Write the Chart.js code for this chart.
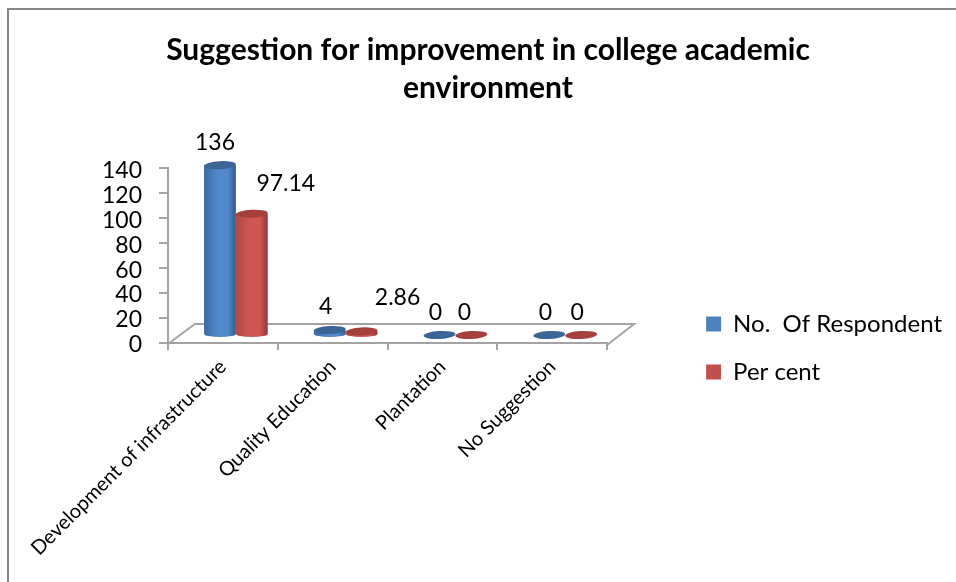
<!DOCTYPE html>
<html>
<head>
<meta charset="utf-8">
<title>Suggestion for improvement in college academic environment</title>
<script src="https://cdn.jsdelivr.net/npm/chart.js@4"></script>
<style>
    html, body { margin: 0; padding: 0; background: #fff; overflow: hidden; }
    #wrap { position: relative; width: 956px; height: 582px; }
    #frame { position: absolute; left: 7px; top: 8px; width: 949px; height: 574px;
             border-left: 2px solid #868686; border-top: 2px solid #868686; box-sizing: border-box; }
    canvas { position: absolute; left: 0; top: 0; }
</style>
</head>
<body>
<div id="wrap">
    <div id="frame"></div>
    <canvas id="chart" width="956" height="582"></canvas>
</div>
<script>
// data
const categories = ['Development of infrastructure', 'Quality Education', 'Plantation', 'No Suggestion'];
const respondents = [136, 4, 0, 0];
const perCent = [97.14, 2.86, 0, 0];
const yTicks = [0, 20, 40, 60, 80, 100, 120, 140];

const FONT = 'Lato, "Open Sans", sans-serif';
const AXIS_GREY = '#a3a3a3';

// depth of the fake 3D floor
const DEPTH_X = 27, DEPTH_Y = 21;
// cylinders stand in the middle of the floor
const SHIFT_X = 13, SHIFT_Y = 8;
const RY = 5;

const looks = [
    { edgeL: '#3c6ca4', mid: '#5288cc', edgeR: '#315a8a', top: '#3b6597' },
    { edgeL: '#b04844', mid: '#cf5753', edgeR: '#8e3735', top: '#a5403d' }
];

// value labels are scattered around the bars in the original
const labelOffsets = [
    [[-5, -23], [-4, -23], [-4, -22], [-4, -22]],
    [[34, -30], [36, -34], [-7, -22], [-4, -22]]
];

const floorPlugin = {
    id: 'floor',
    beforeDatasetsDraw(chart) {
        const { ctx } = chart;
        const x = chart.scales.x, y = chart.scales.y;
        const base = y.getPixelForValue(0) + 2;
        ctx.save();
        ctx.strokeStyle = AXIS_GREY;
        ctx.lineWidth = 2;
        ctx.beginPath();
        ctx.moveTo(x.left, base - 1);
        ctx.lineTo(x.left + DEPTH_X, base - DEPTH_Y);
        ctx.lineTo(x.right + DEPTH_X, base - DEPTH_Y);
        ctx.lineTo(x.right, base);
        ctx.stroke();
        ctx.restore();
    }
};

const cylinderPlugin = {
    id: 'cylinders',
    afterDatasetsDraw(chart) {
        const { ctx } = chart;
        chart.data.datasets.forEach((ds, i) => {
            const look = looks[i];
            chart.getDatasetMeta(i).data.forEach((bar, j) => {
                const cx = bar.x + SHIFT_X, hw = bar.width / 2;
                const topY = bar.y - SHIFT_Y, botY = bar.base - SHIFT_Y;
                ctx.save();
                if (botY - topY > 0.5) {
                    const g = ctx.createLinearGradient(cx - hw, 0, cx + hw, 0);
                    g.addColorStop(0, look.edgeL);
                    g.addColorStop(0.45, look.mid);
                    g.addColorStop(0.75, look.mid);
                    g.addColorStop(1, look.edgeR);
                    ctx.fillStyle = g;
                    ctx.beginPath();
                    ctx.moveTo(cx - hw, topY);
                    ctx.lineTo(cx - hw, botY);
                    ctx.ellipse(cx, botY, hw, RY - 2, 0, Math.PI, 0, true);
                    ctx.lineTo(cx + hw, topY);
                    ctx.closePath();
                    ctx.fill();
                }
                // top cap, tilted like the original
                ctx.fillStyle = look.top;
                ctx.beginPath();
                ctx.ellipse(cx, topY, hw, RY - 1, -0.05, 0, Math.PI * 2);
                ctx.fill();

                // value label
                const off = labelOffsets[i][j];
                ctx.fillStyle = '#000';
                ctx.font = '23px ' + FONT;
                ctx.textAlign = 'center';
                ctx.textBaseline = 'middle';
                ctx.fillText(String(ds.data[j]), cx + off[0], topY + off[1]);
                ctx.restore();
            });
        });
    }
};

// the legend sits further right and lower than Chart.js would put it
const legendShift = {
    id: 'legendShift',
    afterLayout(chart) {
        const l = chart.legend;
        const dx = 75, dy = 57;
        l.left += dx; l.right += dx;
        l.top += dy; l.bottom += dy;
    }
};

new Chart(document.getElementById('chart').getContext('2d'), {
    type: 'bar',
    data: {
        labels: categories,
        datasets: [
            { label: 'No.  Of Respondent', data: respondents, backgroundColor: 'rgba(0,0,0,0)', legendColor: '#4f81bd' },
            { label: 'Per cent', data: perCent, backgroundColor: 'rgba(0,0,0,0)', legendColor: '#c0504d' }
        ]
    },
    plugins: [floorPlugin, cylinderPlugin, legendShift],
    options: {
        responsive: false,
        animation: false,
        layout: { autoPadding: false, padding: { left: 99, right: 79, top: 0, bottom: 0 } },
        scales: {
            x: {
                grid: { drawOnChartArea: false, color: AXIS_GREY, lineWidth: 2, tickLength: 7, offset: true },
                border: { color: AXIS_GREY, width: 2 },
                ticks: { color: '#000', font: { family: FONT, size: 20 }, minRotation: 45, maxRotation: 45, padding: 5, autoSkip: false },
                afterFit(axis) { axis.height = 239; }
            },
            y: {
                min: 0,
                max: 140,
                afterBuildTicks(axis) { axis.ticks = yTicks.map(v => ({ value: v })); },
                grid: { drawOnChartArea: false, color: AXIS_GREY, lineWidth: 2, tickLength: 9 },
                border: { color: AXIS_GREY, width: 2 },
                ticks: { color: '#000', font: { family: FONT, size: 23 }, padding: 17, autoSkip: false, labelOffset: 2 },
                afterFit(axis) { axis.width = 69; }
            }
        },
        datasets: { bar: { categoryPercentage: 0.58, barPercentage: 1 } },
        plugins: {
            title: {
                display: true,
                text: ['Suggestion for improvement in college academic', 'environment'],
                color: '#000',
                font: { family: FONT, size: 30, weight: 'bold', lineHeight: 1.27 },
                padding: { top: 31, bottom: 61 }
            },
            legend: {
                position: 'right',
                maxWidth: 300,
                labels: {
                    color: '#000',
                    font: { family: FONT, size: 24 },
                    boxWidth: 15,
                    boxHeight: 15,
                    padding: 24,
                    generateLabels(chart) {
                        return chart.data.datasets.map((ds, i) => ({
                            text: ds.label, fillStyle: ds.legendColor, strokeStyle: ds.legendColor, lineWidth: 0, datasetIndex: i
                        }));
                    }
                }
            },
            tooltip: { enabled: false }
        }
    }
});
</script>
</body>
</html>
